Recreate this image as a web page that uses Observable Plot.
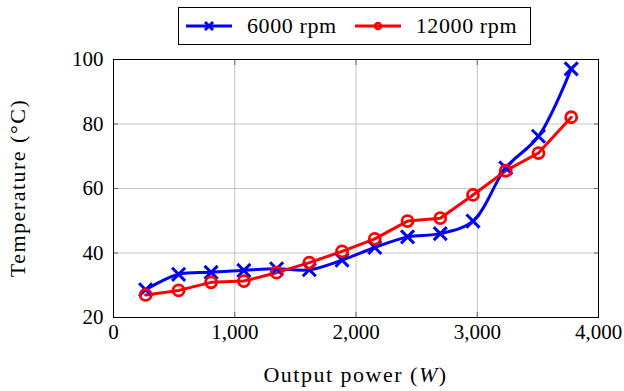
<!DOCTYPE html>
<html>
<head>
<meta charset="utf-8">
<script src="https://cdn.jsdelivr.net/npm/d3@7"></script>
<script src="https://cdn.jsdelivr.net/npm/@observablehq/plot@0.6"></script>
<style>
  body { margin: 0; background: #fff; }
  #wrap { width: 624px; font-family: "Liberation Serif", "DejaVu Serif", serif; }
  #legend { height: 46px; position: relative; }
  #legend .box { position: absolute; left: 178px; top: 7px; width: 353px; height: 38px; border: 1px solid #000; box-sizing: border-box; display: flex; align-items: center; font-size: 22px; letter-spacing: 0.6px; font-family: "Liberation Serif", "DejaVu Serif", serif; }
  #legend .item { display: flex; align-items: center; white-space: nowrap; }
  #chart svg, #chart svg text { font-family: "Liberation Serif", "DejaVu Serif", serif !important; }
</style>
</head>
<body>
<div id="wrap">
  <div id="legend"><div class="box"></div></div>
  <div id="chart"></div>
</div>
<script>
// Data
const seriesNames = ["6000 rpm", "12000 rpm"];
const seriesColors = ["#0000ff", "#ff0000"];
const power = [265, 537, 805, 1075, 1345, 1615, 1885, 2155, 2425, 2695, 2965, 3235, 3505, 3775];
const temp6000 = [28.6, 33.4, 34.0, 34.6, 35.1, 34.8, 37.8, 41.7, 45.0, 46.0, 49.9, 66.4, 76.2, 97.1];
const temp12000 = [27.0, 28.4, 30.9, 31.3, 33.9, 37.0, 40.5, 44.4, 49.9, 50.8, 58.0, 65.5, 71.0, 82.1];
const xTicks = [0, 1000, 2000, 3000, 4000];
const yTicks = [20, 40, 60, 80, 100];
const xLabel = ["Output power (", "W", ")"];
const yLabel = "Temperature (°C)";

const d6 = power.map((p, i) => ({x: p, y: temp6000[i]}));
const d12 = power.map((p, i) => ({x: p, y: temp12000[i]}));

const W = 624, H = 345;
const mL = 113, mR = 26, mT = 13, mB = 74;
const FONT = "'Liberation Serif', 'DejaVu Serif', serif";
const noText = () => "";

const plot = Plot.plot({
  width: W, height: H,
  marginLeft: mL, marginRight: mR, marginTop: mT, marginBottom: mB,
  style: {fontFamily: FONT, fontSize: "21px", color: "#000", background: "#fff", overflow: "visible"},
  x: {domain: [0, 4000], ticks: xTicks, tickFormat: d3.format(","), label: null},
  y: {domain: [20, 100], ticks: yTicks, label: null},
  marks: [
    Plot.gridX(xTicks, {stroke: "#c4c4c4", strokeOpacity: 1, strokeWidth: 1}),
    Plot.gridY(yTicks, {stroke: "#c4c4c4", strokeOpacity: 1, strokeWidth: 1}),
    Plot.axisX(xTicks, {anchor: "bottom", tickSize: -5, tickPadding: 0, tickFormat: noText, stroke: "#666", label: null}),
    Plot.axisX(xTicks, {anchor: "top", tickSize: -5, tickPadding: 0, tickFormat: noText, stroke: "#666", label: null}),
    Plot.axisY(yTicks, {anchor: "left", tickSize: -5, tickPadding: 0, tickFormat: noText, stroke: "#666", label: null}),
    Plot.axisY(yTicks, {anchor: "right", tickSize: -5, tickPadding: 0, tickFormat: noText, stroke: "#666", label: null}),
    Plot.axisX(xTicks, {tickSize: 0, tickPadding: 7, tickFormat: d3.format(","), fontSize: 21, label: null}),
    Plot.axisY(yTicks, {tickSize: 0, tickPadding: 10, fontSize: 21, label: null}),
    Plot.frame({stroke: "#000", strokeWidth: 1}),
    Plot.line(d6, {x: "x", y: "y", stroke: seriesColors[0], strokeWidth: 3, curve: "catmull-rom"}),
    Plot.line(d12, {x: "x", y: "y", stroke: seriesColors[1], strokeWidth: 3}),
    Plot.dot(d6, {x: "x", y: "y", symbol: "times", r: 6, stroke: seriesColors[0], strokeWidth: 3}),
    Plot.dot(d12, {x: "x", y: "y", symbol: "circle", r: 5.5, stroke: seriesColors[1], strokeWidth: 2.8, fill: "none"})
  ]
});

const svg = d3.select(plot);
svg.attr("font-family", FONT);
svg.selectAll("text").attr("font-family", FONT);
// x axis label with italic W
const xt = svg.append("text")
  .attr("x", mL + (W - mL - mR) / 2)
  .attr("y", 336)
  .attr("text-anchor", "middle")
  .attr("font-size", 22)
  .attr("letter-spacing", "1.5px")
  .attr("font-family", FONT)
  .attr("fill", "#000");
xt.append("tspan").text(xLabel[0]);
xt.append("tspan").attr("font-style", "italic").text(xLabel[1]);
xt.append("tspan").text(xLabel[2]);
// y axis label
svg.append("text")
  .attr("transform", `translate(25,${mT + (H - mT - mB) / 2}) rotate(-90)`)
  .attr("text-anchor", "middle")
  .attr("font-size", 22)
  .attr("letter-spacing", "1.5px")
  .attr("font-family", FONT)
  .attr("fill", "#000")
  .text(yLabel);

document.getElementById("chart").appendChild(plot);

// Legend
const box = d3.select("#legend .box");
seriesNames.forEach((name, i) => {
  const item = box.append("div").attr("class", "item").style("margin-left", i === 0 ? "7px" : "18px");
  const s = item.append("svg").attr("width", 46).attr("height", 20);
  s.append("line").attr("x1", 0).attr("x2", 46).attr("y1", 10).attr("y2", 10)
    .attr("stroke", seriesColors[i]).attr("stroke-width", 3);
  if (i === 0) {
    s.append("path").attr("d", "M19,6L27,14M27,6L19,14").attr("stroke", seriesColors[i]).attr("stroke-width", 3);
  } else {
    s.append("circle").attr("cx", 23).attr("cy", 10).attr("r", 3).attr("fill", "none")
      .attr("stroke", seriesColors[i]).attr("stroke-width", 2.5);
  }
  item.append("span").style("margin-left", "15px").text(name);
});
</script>
</body>
</html>
